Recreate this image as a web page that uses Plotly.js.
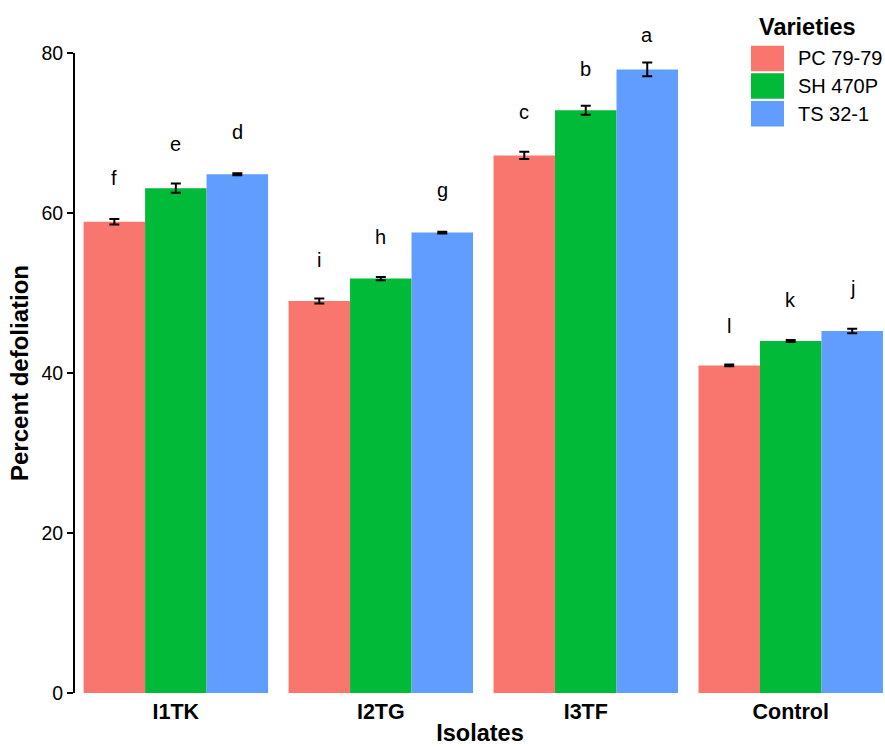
<!DOCTYPE html>
<html>
<head>
<meta charset="utf-8">
<script src="https://cdn.plot.ly/plotly-3.0.1.min.js"></script>
<style>html,body{margin:0;padding:0;background:#fff}#chart{width:885px;height:747px}</style>
</head>
<body>
<div id="chart"></div>
<script>
const categories = ['I1TK', 'I2TG', 'I3TF', 'Control'];
const varieties = ['PC 79-79', 'SH 470P', 'TS 32-1'];
const pcValues = [58.9, 49.0, 67.2, 40.95];
const shValues = [63.1, 51.8, 72.85, 44.0];
const tsValues = [64.85, 57.55, 77.95, 45.25];
const pcErr = [0.35, 0.3, 0.45, 0.1];
const shErr = [0.58, 0.2, 0.56, 0.12];
const tsErr = [0.12, 0.1, 0.87, 0.27];
const pcLetters = ['f', 'i', 'c', 'l'];
const shLetters = ['e', 'h', 'b', 'k'];
const tsLetters = ['d', 'g', 'a', 'j'];
const pcLetterY = [63.5, 53.2, 71.8, 45.05];
const shLetterY = [67.75, 56.1, 77.1, 48.2];
const tsLetterY = [69.3, 62.0, 81.4, 49.7];

const colors = ['#F8766D', '#00BA38', '#619CFF'];
const FONT = 'Liberation Sans, Arial, sans-serif';
const W = 885, H = 747, ML = 75, MR = 0, MT = 53, MB = 54;
const Y_MAX = 80;
const px2x = p => (p - ML) / (W - ML - MR);
const px2y = p => (H - MB - p) / (H - MT - MB);

const xIdx = categories.map((c, i) => i);
const series = [
  {name: varieties[0], y: pcValues, err: pcErr, letters: pcLetters, ly: pcLetterY},
  {name: varieties[1], y: shValues, err: shErr, letters: shLetters, ly: shLetterY},
  {name: varieties[2], y: tsValues, err: tsErr, letters: tsLetters, ly: tsLetterY}
];

const traces = series.map((s, j) => ({
  type: 'bar',
  name: s.name,
  x: xIdx,
  y: s.y,
  marker: {color: colors[j], line: {width: 0}},
  error_y: {type: 'data', array: s.err, visible: true, color: '#000', thickness: 2, width: 5},
  showlegend: false,
  hoverinfo: 'x+y'
}));

const annotations = [];
series.forEach((s, j) => {
  s.letters.forEach((l, i) => {
    annotations.push({
      x: i + (j - 1) * 0.3, y: s.ly[i] / Y_MAX, xref: 'x', yref: 'paper',
      text: l, showarrow: false, xanchor: 'center', yanchor: 'middle', yshift: 7,
      font: {family: FONT, size: 20, color: '#000'}
    });
  });
});

// legend (manual, large keys)
const shapes = [];
annotations.push({
  x: px2x(757), y: px2y(27), xref: 'paper', yref: 'paper', text: '<b>Varieties</b>',
  showarrow: false, xanchor: 'left', yanchor: 'middle',
  font: {family: FONT, size: 23.5, color: '#000'}
});
const keyTop = [45.7, 73.3, 101];
varieties.forEach((v, j) => {
  shapes.push({
    type: 'rect', xref: 'paper', yref: 'paper',
    x0: px2x(751), x1: px2x(784), y0: px2y(keyTop[j] + 25.5), y1: px2y(keyTop[j]),
    fillcolor: colors[j], line: {width: 0}
  });
  annotations.push({
    x: px2x(796), y: px2y(keyTop[j] + 12.7), xref: 'paper', yref: 'paper', text: v,
    showarrow: false, xanchor: 'left', yanchor: 'middle',
    font: {family: FONT, size: 20, color: '#000'}
  });
});

const layout = {
  width: W, height: H,
  margin: {l: ML, r: MR, t: MT, b: MB, pad: 0},
  paper_bgcolor: '#fff', plot_bgcolor: '#fff',
  barmode: 'group', bargap: 0.1, bargroupgap: 0,
  showlegend: false,
  font: {family: FONT, color: '#000'},
  xaxis: {
    type: 'linear', range: [-0.492, 3.46],
    tickvals: xIdx, ticktext: categories.map(c => '<b>' + c + '</b>'),
    tickfont: {family: FONT, size: 21.5, color: '#000'},
    ticklabelstandoff: 3,
    showline: false, ticks: '', showgrid: false, zeroline: false,
    title: {text: '<b>Isolates</b>', font: {family: FONT, size: 23.5, color: '#000'}, standoff: 2},
    automargin: false
  },
  yaxis: {
    range: [0, Y_MAX], tickvals: [0, 20, 40, 60, 80],
    tickfont: {family: FONT, size: 19.5, color: '#000'},
    showline: true, linecolor: '#000', linewidth: 2,
    ticks: 'outside', ticklen: 6, tickwidth: 1.5, tickcolor: '#000',
    showgrid: false, zeroline: false,
    title: {text: '<b>Percent defoliation</b>', font: {family: FONT, size: 24, color: '#000'}, standoff: 6},
    automargin: false
  },
  annotations: annotations,
  shapes: shapes
};

Plotly.newPlot('chart', traces, layout, {displayModeBar: false, staticPlot: true});
</script>
</body>
</html>
